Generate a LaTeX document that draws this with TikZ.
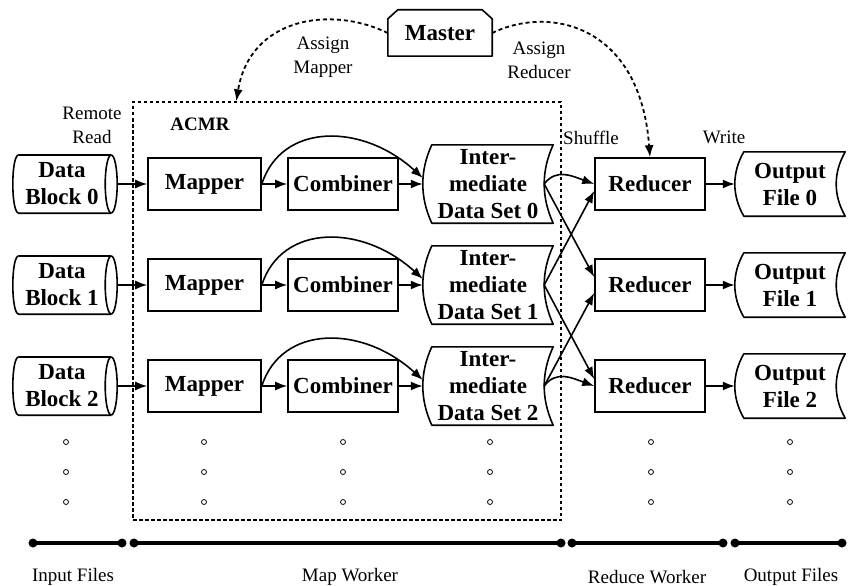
\documentclass[tikz,border=0pt]{standalone}
\usepackage{fontspec}
\setmainfont{Liberation Serif}
\usetikzlibrary{arrows.meta,calc}
\begin{document}
\begin{tikzpicture}[x=1pt,y=-1pt,
  bx/.style={draw, line width=1.6pt, inner sep=0pt, font=\fontsize{23}{27}\selectfont\bfseries, align=center},
  plain/.style={inner sep=0pt, font=\fontsize{23}{27}\selectfont\bfseries, align=center},
  lbl/.style={inner sep=0pt, font=\fontsize{19}{24}\selectfont, align=center},
  conn/.style={line width=1.6pt, -{Latex[length=12pt,width=9pt]}},
  outl/.style={line width=1.6pt, line join=round},
  dsh/.style={line width=1.8pt, dash pattern=on 4pt off 3pt, -{Latex[length=12pt,width=9pt]}},
  acmrbox/.style={draw, line width=1.5pt, dash pattern=on 3.5pt off 2.5pt, inner sep=0pt},
  timeline/.style={line width=4pt},
  dotc/.style={line width=0.8pt}
]
\useasboundingbox (0,0) rectangle (849,586);

% ACMR dashed region
\node[acmrbox, minimum width=428pt, minimum height=418pt] (acmr) at (347,311) {};

% Master
\node[plain, minimum width=104pt, minimum height=46pt] (ms) at (440,33) {Master};
\draw[outl] ($(ms.north west)+(10,0)$) -- ($(ms.north east)+(-10,0)$) -- ($(ms.north east)+(0,9)$) -- (ms.south east) -- (ms.south west) -- ($(ms.north west)+(0,9)$) -- cycle;

\foreach \i/\y in {0/184,1/285,2/386}{
  % data block (horizontal cylinder)
  \node[plain, minimum width=98pt, minimum height=58pt] (d\i) at (62,\y) {Data\\Block \i};
  \draw[outl] ($(d\i.north west)+(6,0)$) -- (d\i.north east);
  \draw[outl] (d\i.south east) -- ($(d\i.south west)+(6,0)$) .. controls +(-8,0) and +(-8,0) .. ($(d\i.north west)+(6,0)$);
  \draw[outl] (d\i.east) ellipse [x radius=6pt, y radius=29pt];
  \coordinate (de\i) at ($(d\i.east)+(6,0)$);
  % mapper, combiner
  \node[bx, minimum width=113pt, minimum height=52pt] (m\i) at (204.5,\y) {Mapper};
  \node[bx, minimum width=110pt, minimum height=52pt] (c\i) at (343,\y) {Combiner};
  % intermediate data set
  \node[plain, minimum width=130pt, minimum height=78pt] (I\i) at (488,\y) {Inter-\\mediate\\Data Set \i};
  \draw[outl] ($(I\i.north west)+(9,0)$) -- (I\i.north east) .. controls +(-12,26) and +(-12,-26) .. (I\i.south east) -- ($(I\i.south west)+(9,0)$) .. controls +(-12,-26) and +(-12,26) .. ($(I\i.north west)+(9,0)$) -- cycle;
  \coordinate (s\i) at ($(I\i.east)+(-9,0)$);
  % reducer
  \node[bx, minimum width=110pt, minimum height=52pt] (r\i) at (650,\y) {Reducer};
  % output file
  \node[plain, minimum width=110pt, minimum height=64pt] (o\i) at (790,\y) {Output\\File \i};
  \draw[outl] ($(o\i.north west)+(9,0)$) -- (o\i.north east) .. controls +(-12,21) and +(-12,-21) .. (o\i.south east) -- ($(o\i.south west)+(9,0)$) .. controls +(-12,-21) and +(-12,21) .. ($(o\i.north west)+(9,0)$) -- cycle;
  % connectors
  \draw[conn] (de\i) -- (m\i.west);
  \draw[conn] (m\i.east) -- (c\i.west);
  \draw[conn] (c\i.east) -- (I\i.west);
  \draw[conn] (m\i.east) .. controls +(20,-62) and +(-60,-55) .. ($(I\i.west)+(0,-6)$);
  \draw[conn] (r\i.east) -- (o\i.west);
}

% shuffle
\draw[conn] (s0) .. controls +(12,-16) and +(-22,-8) .. (r0.west);
\draw[conn] (s0) -- ($(r1.west)+(0,-8)$);
\draw[conn] (s1) -- ($(r0.west)+(0,7)$);
\draw[conn] (s1) -- ($(r2.west)+(0,-7)$);
\draw[conn] (s2) -- ($(r1.west)+(0,8)$);
\draw[conn] (s2) .. controls +(12,-16) and +(-22,-8) .. (r2.west);

% assign arrows
\coordinate (amt) at ($(acmr.north west)+(104,0)$);
\draw[dsh] (ms.west) .. controls (330,5) and (250,18) .. (amt);
\draw[dsh] (ms.east) .. controls (550,5) and (640,25) .. (r0.north);

% labels
\node[lbl] (am) at (323,57) {Assign\\Mapper};
\node[lbl] (ar) at (539,60) {Assign\\Reducer};
\node[lbl] (rr) at (92,125) {Remote\\Read};
\node[lbl, font=\fontsize{19}{24}\selectfont\bfseries] (acl) at (200,124) {ACMR};
\node[lbl] (sh) at (591,138) {Shuffle};
\node[lbl] (wr) at (724,137) {Write};

% ellipsis dots
\foreach \x in {66,204,343,490,651,790}{
  \foreach \yy in {442,472,502}{
    \draw[dotc] (\x,\yy) circle[radius=2.5pt];
  }
}

% timeline
\foreach \a/\b/\n in {33/122/a,134/561/b,572/723/c,735/842/d}{
  \coordinate (t\n1) at (\a,543);
  \coordinate (t\n2) at (\b,543);
  \draw[timeline] (t\n1) -- (t\n2);
  \fill (t\n1) circle[radius=4.5pt] (t\n2) circle[radius=4.5pt];
}
\node[lbl] (lin) at (73,577) {Input Files};
\node[lbl] (lmap) at (350,577) {Map Worker};
\node[lbl] (lred) at (647,577) {Reduce Worker};
\node[lbl] (lout) at (791,577) {Output Files};
\end{tikzpicture}
\end{document}
